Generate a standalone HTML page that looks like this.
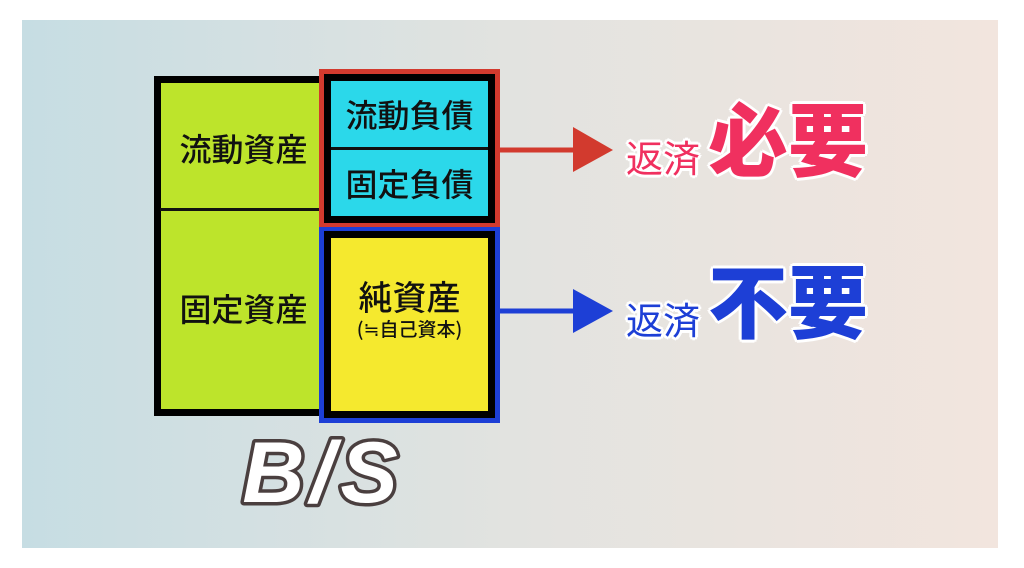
<!DOCTYPE html>
<html><head><meta charset="utf-8"><style>
html,body{margin:0;padding:0;width:1024px;height:568px;background:#fff;overflow:hidden;position:relative;font-family:"Liberation Sans","Noto Sans CJK JP",sans-serif}
.card{position:absolute;left:22px;top:20px;width:976px;height:528px;background:linear-gradient(90deg,#c6dde3 0%,#e2e3e0 50%,#f2e5de 100%)}
.a{position:absolute;box-sizing:border-box}
.lbl{position:absolute;display:flex;align-items:center;justify-content:center;color:#111;font-family:"Noto Sans CJK JP",sans-serif;font-weight:500;white-space:nowrap}
.t{position:absolute;font-family:"Noto Sans CJK JP",sans-serif;white-space:nowrap;line-height:1}
.o{text-shadow:0 0 3px #fff,2px 2px 0 #fff,-2px -2px 0 #fff,2px -2px 0 #fff,-2px 2px 0 #fff,3px 0 0 #fff,-3px 0 0 #fff,0 3px 0 #fff,0 -3px 0 #fff}
</style></head><body>
<div class="card"></div>
<div class="a" style="left:154px;top:76px;width:174px;height:340px;background:#bde42b;border:7px solid #000;border-right:none"></div>
<div class="a" style="left:160px;top:208px;width:166px;height:3px;background:#111"></div>
<div class="lbl" style="left:161px;top:85px;width:165px;height:125px;font-size:32px">流動資産</div>
<div class="lbl" style="left:161px;top:211px;width:165px;height:194px;font-size:32px">固定資産</div>
<div class="a" style="left:319px;top:69px;width:181px;height:159px;border:5px solid #d23a2e"></div>
<div class="a" style="left:324px;top:74px;width:171px;height:149px;background:#2bd8ea;border:7px solid #000"></div>
<div class="a" style="left:331px;top:147px;width:157px;height:3px;background:#111"></div>
<div class="lbl" style="left:331px;top:81px;width:157px;height:66px;font-size:32px">流動負債</div>
<div class="lbl" style="left:331px;top:150px;width:157px;height:66px;font-size:32px">固定負債</div>
<div class="a" style="left:319px;top:227px;width:181px;height:196px;border:5px solid #1d3fd6"></div>
<div class="a" style="left:324px;top:231px;width:171px;height:187px;background:#f5e92e;border:7px solid #000"></div>
<div class="lbl" style="left:331px;top:273px;width:157px;height:44px;font-size:34px">純資産</div>
<div class="lbl" style="left:331px;top:314px;width:157px;height:28px;font-size:19px">(≒自己資本)</div>
<svg class="a" style="left:0;top:0" width="1024" height="568">
<line x1="499" y1="150" x2="578" y2="150" stroke="#d23a2e" stroke-width="5"/>
<polygon points="573,127 613,150 573,172" fill="#d23a2e"/>
<line x1="499" y1="311" x2="578" y2="311" stroke="#1d3fd6" stroke-width="5"/>
<polygon points="573,289 613,311 573,333" fill="#1d3fd6"/>
<text x="323" y="502" font-family="Liberation Sans,sans-serif" font-weight="bold" font-style="italic" font-size="86" text-anchor="middle" fill="#fff" stroke="#4a3f3f" stroke-width="7" stroke-linejoin="round" paint-order="stroke" letter-spacing="6">B/S</text>
</svg>
<div class="t o" style="left:626px;top:138px;font-size:37px;color:#f0305f">返済</div>
<div class="t o" style="left:708px;top:96px;font-size:80px;font-weight:900;color:#f0305f">必要</div>
<div class="t o" style="left:626px;top:300px;font-size:37px;color:#1d3fd6">返済</div>
<div class="t o" style="left:708px;top:258px;font-size:80px;font-weight:900;color:#1d3fd6">不要</div>
</body></html>
